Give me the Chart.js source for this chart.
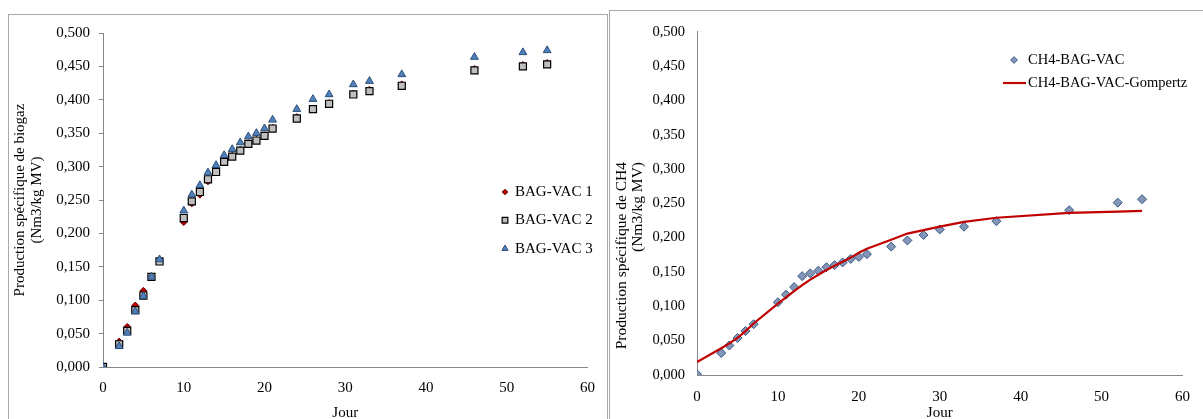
<!DOCTYPE html>
<html>
<head>
<meta charset="utf-8">
<script src="https://cdn.jsdelivr.net/npm/chart.js@4.4.1/dist/chart.umd.min.js"></script>
<style>
  html, body { margin: 0; padding: 0; background: #fff; overflow: hidden; width: 1203px; height: 419px; }
  .panel { position: absolute; border: 1px solid #a9a9a9; background: #fff; overflow: hidden; }
  #panel-biogaz { left: 8px; top: 14px; width: 598px; height: 420px; }
  #panel-ch4 { left: 609px; top: 10px; width: 600px; height: 420px; }
  canvas { display: block; }
</style>
</head>
<body>
<div class="panel" id="panel-biogaz"><canvas id="chart-biogaz" width="598" height="420"></canvas></div>
<div class="panel" id="panel-ch4"><canvas id="chart-ch4" width="593" height="420"></canvas></div>
<script>
// Jours de mesure
const joursBiogaz = [0, 2, 3, 4, 5, 6, 7, 10, 11, 12, 13, 14, 15, 16, 17, 18, 19, 20, 21, 24, 26, 28, 31, 33, 37, 46, 52, 55];
const joursCH4    = [0, 3, 4, 5, 6, 7, 10, 11, 12, 13, 14, 15, 16, 17, 18, 19, 20, 21, 24, 26, 28, 30, 33, 37, 46, 52, 55];

// Production spécifique de biogaz (Nm3/kg MV)
const bagVac1 = [0, 0.038, 0.060, 0.092, 0.114, 0.136, 0.158, 0.217, 0.245, 0.258, 0.278, 0.293, 0.307, 0.316, 0.325, 0.335, 0.340, 0.347, 0.358, 0.374, 0.387, 0.395, 0.409, 0.415, 0.423, 0.446, 0.452, 0.455];
const bagVac2 = [0, 0.034, 0.054, 0.085, 0.107, 0.135, 0.158, 0.223, 0.248, 0.262, 0.281, 0.292, 0.307, 0.315, 0.324, 0.334, 0.339, 0.346, 0.357, 0.372, 0.386, 0.394, 0.408, 0.413, 0.421, 0.444, 0.450, 0.453];
const bagVac3 = [0, 0.031, 0.051, 0.083, 0.106, 0.135, 0.161, 0.234, 0.258, 0.272, 0.291, 0.302, 0.317, 0.326, 0.336, 0.345, 0.350, 0.357, 0.370, 0.386, 0.401, 0.408, 0.423, 0.428, 0.438, 0.464, 0.471, 0.474];

// Production spécifique de CH4 (Nm3/kg MV) + modèle de Gompertz
const ch4BagVac = [0.001, 0.032, 0.043, 0.054, 0.064, 0.074, 0.106, 0.117, 0.128, 0.144, 0.148, 0.152, 0.157, 0.160, 0.164, 0.169, 0.172, 0.176, 0.187, 0.196, 0.204, 0.212, 0.216, 0.224, 0.240, 0.251, 0.256];
const gompertz  = [0.019, 0.039, 0.046, 0.054, 0.064, 0.075, 0.104, 0.113, 0.122, 0.131, 0.139, 0.146, 0.153, 0.159, 0.165, 0.171, 0.178, 0.184, 0.197, 0.206, 0.211, 0.216, 0.223, 0.229, 0.236, 0.238, 0.239];

// Graduations
const xTicks = [0, 10, 20, 30, 40, 50, 60];
const yTicks = [0, 0.05, 0.1, 0.15, 0.2, 0.25, 0.3, 0.35, 0.4, 0.45, 0.5];
const yTickLabels = ['0,000', '0,050', '0,100', '0,150', '0,200', '0,250', '0,300', '0,350', '0,400', '0,450', '0,500'];

const FONT = 'Liberation Serif';
const AXIS = '#868686';
Chart.defaults.font.family = FONT;
Chart.defaults.color = '#000';

const pts = (xs, ys) => xs.map((x, i) => ({ x, y: ys[i] }));

// légende dessinée dans la zone du graphique
const insideLegend = {
  id: 'insideLegend',
  afterDraw(chart, args, opts) {
    const ctx = chart.ctx;
    ctx.save();
    ctx.font = `${opts.size}px "${FONT}"`;
    ctx.textBaseline = 'middle';
    chart.data.datasets.forEach((ds, i) => {
      const y = opts.y + i * opts.row;
      if (ds.showLine) {
        ctx.strokeStyle = ds.borderColor;
        ctx.lineWidth = ds.borderWidth;
        ctx.beginPath();
        ctx.moveTo(opts.lineX0, y);
        ctx.lineTo(opts.lineX1, y);
        ctx.stroke();
      } else {
        ctx.fillStyle = ds.backgroundColor;
        ctx.strokeStyle = ds.borderColor;
        ctx.lineWidth = ds.borderWidth;
        Chart.helpers.drawPoint(ctx, {
          pointStyle: ds.pointStyle, rotation: 0,
          radius: ds.pointRadius * opts.markerScale, borderWidth: ds.borderWidth
        }, opts.markerX, y);
      }
      ctx.fillStyle = '#000';
      ctx.fillText(ds.label, opts.textX, y);
    });
    ctx.restore();
  }
};

// titre vertical aligné en haut, comme dans Excel
const endTitle = {
  id: 'endTitle',
  afterDraw(chart, args, opts) {
    if (!opts.lines) return;
    const ctx = chart.ctx;
    ctx.save();
    ctx.font = `${opts.size}px "${FONT}"`;
    ctx.fillStyle = '#000';
    ctx.textAlign = 'right';
    ctx.textBaseline = 'middle';
    opts.lines.forEach((t, i) => {
      ctx.save();
      ctx.translate(opts.x + i * opts.gap, opts.y);
      ctx.rotate(-Math.PI / 2);
      ctx.fillText(t, 0, 0);
      ctx.restore();
    });
    ctx.restore();
  }
};

function axes(cfg) {
  return {
    x: {
      type: 'linear', min: 0, max: 60,
      afterBuildTicks: s => { s.ticks = xTicks.map(v => ({ value: v })); },
      ticks: { padding: cfg.xPad, font: { size: 15 }, color: '#000' },
      grid: { display: false, drawTicks: false },
      border: { color: AXIS, width: 1 },
      title: { display: true, text: 'Jour', font: { size: 15 }, color: '#000', padding: { top: 0, bottom: 4 } },
      afterFit: s => { s.height = cfg.xHeight; }
    },
    y: {
      type: 'linear', min: 0, max: 0.5,
      afterBuildTicks: s => { s.ticks = yTicks.map(v => ({ value: v })); },
      ticks: { padding: cfg.yPad, font: { size: cfg.yFont }, color: '#000', callback: (v, i) => yTickLabels[i] },
      grid: { drawOnChartArea: false, drawTicks: cfg.yTickMarks, tickLength: 4, color: AXIS },
      border: { color: AXIS, width: 1 },
      title: cfg.yTitle,
      afterFit: s => { s.width = cfg.yWidth; }
    }
  };
}

new Chart(document.getElementById('chart-biogaz'), {
  type: 'scatter',
  data: {
    datasets: [
      { label: 'BAG-VAC 1', data: pts(joursBiogaz, bagVac1), pointStyle: 'rectRot', pointRadius: 3.5,
        backgroundColor: '#C00000', borderColor: '#5A0000', borderWidth: 1, order: 3 },
      { label: 'BAG-VAC 2', data: pts(joursBiogaz, bagVac2), pointStyle: 'rect', pointRadius: 5,
        backgroundColor: '#BFBFBF', borderColor: '#000000', borderWidth: 1.2, order: 2 },
      { label: 'BAG-VAC 3', data: pts(joursBiogaz, bagVac3), pointStyle: 'triangle', pointRadius: 4.5,
        backgroundColor: '#4F81BD', borderColor: '#2C4D75', borderWidth: 1, order: 1 }
    ]
  },
  options: {
    responsive: false, animation: false,
    layout: { padding: { top: 15, right: 14, bottom: 9, left: 0 } },
    scales: axes({
      xPad: 12, xHeight: 59, yPad: 9, yFont: 15, yTickMarks: true, yWidth: 94,
      yTitle: { display: true, text: ['Production spécifique de biogaz', '(Nm3/kg MV)'],
        font: { size: 15, lineHeight: 1.1 }, color: '#000', padding: { top: 3, bottom: 0 } }
    }),
    plugins: {
      legend: { display: false }, tooltip: { enabled: false },
      insideLegend: { size: 15, markerX: 496, textX: 506, y: 177, row: 28.3, markerScale: 0.8 }
    }
  },
  plugins: [insideLegend]
});

new Chart(document.getElementById('chart-ch4'), {
  type: 'scatter',
  data: {
    datasets: [
      { label: 'CH4-BAG-VAC', data: pts(joursCH4, ch4BagVac), pointStyle: 'rectRot', pointRadius: 4.5,
        backgroundColor: '#8496B8', borderColor: '#365785', borderWidth: 1, order: 1 },
      { label: 'CH4-BAG-VAC-Gompertz', type: 'line', data: pts(joursCH4, gompertz), showLine: true,
        borderColor: '#C00000', borderWidth: 2.2, pointRadius: 0, tension: 0, fill: false, order: 0 }
    ]
  },
  options: {
    responsive: false, animation: false,
    layout: { padding: { top: 19, right: 16, bottom: 5, left: 0 } },
    scales: axes({
      xPad: 13, xHeight: 51, yPad: 12, yFont: 14.5, yTickMarks: false, yWidth: 87,
      yTitle: { display: false }
    }),
    plugins: {
      legend: { display: false }, tooltip: { enabled: false },
      insideLegend: { size: 14.5, markerX: 404, textX: 418, lineX0: 393, lineX1: 416, y: 49, row: 23, markerScale: 0.75 },
      endTitle: { lines: ['Production spécifique de CH4', '(Nm3/kg MV)'], size: 15.5, x: 12, gap: 16, y: 151 }
    }
  },
  plugins: [insideLegend, endTitle]
});
</script>
</body>
</html>
